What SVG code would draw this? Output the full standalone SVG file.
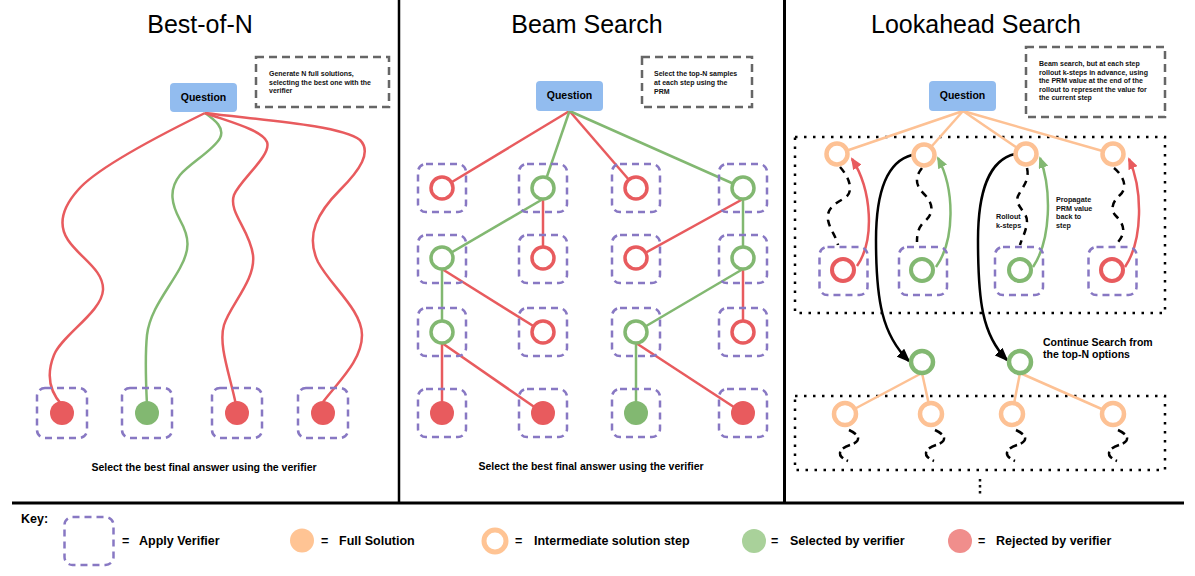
<svg xmlns="http://www.w3.org/2000/svg" width="1195" height="576" viewBox="0 0 1195 576">
<defs>
<style>
text{font-family:"Liberation Sans",Arial,Helvetica,sans-serif;fill:#000}
.title{font-size:25px}
.q{font-size:10.5px;font-weight:bold;text-anchor:middle}
.note{font-size:7px;font-weight:bold;fill:#111}
.cap{font-size:10.5px;font-weight:bold;text-anchor:middle}
.lbl{font-size:7.2px;font-weight:bold;fill:#111}
.key{font-size:12.5px;font-weight:bold}
.qbox{fill:#92BCEF}
.nbox{fill:none;stroke:#666;stroke-width:2.5;stroke-dasharray:8 5}
.vbox{fill:none;stroke:#8878C3;stroke-width:2.5;stroke-dasharray:7 5}
.dotr{fill:none;stroke:#000;stroke-width:2.5;stroke-dasharray:2.5 6.5}
.ln{fill:none;stroke-width:2.5}
.red{stroke:#E85B5E}
.grn{stroke:#82B871}
.org{stroke:#FDC194}
.blk{stroke:#000}
.ring{fill:#fff;stroke-width:3.5}
.ring2{fill:#fff;stroke-width:4.5}
.fr{fill:#E85B5E}
.fg{fill:#82B871}
.dash{fill:none;stroke:#000;stroke-width:2.5;stroke-dasharray:7 6}
.sq{fill:none;stroke:#000;stroke-width:2.5;stroke-dasharray:8 4}
.div{stroke:#000;stroke-width:2.5}
</style>
<marker id="ar" markerUnits="userSpaceOnUse" markerWidth="12" markerHeight="10" refX="10" refY="5" orient="auto"><path d="M0,0 L12,5 L0,10 z" fill="#E85B5E"/></marker>
<marker id="ag" markerUnits="userSpaceOnUse" markerWidth="12" markerHeight="10" refX="10" refY="5" orient="auto"><path d="M0,0 L12,5 L0,10 z" fill="#82B871"/></marker>
<marker id="ak" markerUnits="userSpaceOnUse" markerWidth="14" markerHeight="11" refX="12" refY="5.5" orient="auto"><path d="M0,0 L14,5.5 L0,11 z" fill="#000"/></marker>
</defs>
<rect width="1195" height="576" fill="#fff"/>

<g id="frame">
<line class="div" x1="399" y1="0" x2="399" y2="502"/>
<line class="div" x1="784.5" y1="0" x2="784.5" y2="502" style="stroke-width:3"/>
<line class="div" x1="12" y1="503" x2="1184" y2="503" style="stroke-width:3"/>
</g>

<g id="titles">
<text class="title" x="200" y="33" text-anchor="middle">Best-of-N</text>
<text class="title" x="587" y="33" text-anchor="middle">Beam Search</text>
<text class="title" x="976" y="33" text-anchor="middle">Lookahead Search</text>
</g>

<g id="notes">
<rect class="nbox" x="256" y="57" width="133" height="50"/>
<text class="note" x="269" y="76">Generate N full solutions,</text>
<text class="note" x="269" y="84.5">selecting the best one with the</text>
<text class="note" x="269" y="93">verifier</text>
<rect class="nbox" x="642" y="57" width="110" height="50"/>
<text class="note" x="654" y="76">Select the top-N samples</text>
<text class="note" x="654" y="85">at each step using the</text>
<text class="note" x="654" y="94">PRM</text>
<rect class="nbox" x="1026" y="47" width="139" height="70"/>
<text class="note" x="1039" y="66">Beam search, but at each step</text>
<text class="note" x="1039" y="74.5">rollout k-steps in advance, using</text>
<text class="note" x="1039" y="83">the PRM value at the end of the</text>
<text class="note" x="1039" y="91.7">rollout to represent the value for</text>
<text class="note" x="1039" y="100.3">the current step</text>
</g>

<g id="lookahead-regions">
<rect class="dotr" x="795" y="137" width="370" height="176"/>
<rect class="dotr" x="795" y="396" width="370" height="74"/>
<line x1="980" y1="479" x2="980" y2="495" style="stroke:#111;stroke-width:2.5;stroke-dasharray:2.5 3.5"/>
</g>

<g id="connectors">
<!-- Best-of-N -->
<path class="ln red" d="M205,113 C150,140 95,170 78,190 C62,208 58,225 68,240 C80,258 104,270 103,290 C102,312 62,335 54,355 C46,375 50,392 62,405"/>
<path class="ln grn" d="M205,113 C215,120 225,128 220,138 C214,150 190,163 180,175 C168,190 172,205 180,220 C190,238 190,250 180,268 C168,290 150,310 147,335 C145,355 146,385 147,405"/>
<path class="ln red" d="M205,113 C230,122 262,130 267,142 C272,155 240,180 234,195 C228,212 250,230 253,255 C256,280 230,305 224,325 C218,345 230,375 236,405"/>
<path class="ln red" d="M205,113 C260,120 340,125 360,140 C372,152 360,170 340,190 C318,212 305,235 318,262 C330,285 362,310 362,335 C362,360 340,380 323,402"/>
<!-- Beam search -->
<line class="ln red" x1="569.5" y1="111" x2="442" y2="188"/>
<line class="ln grn" x1="569.5" y1="111" x2="543" y2="188"/>
<line class="ln red" x1="569.5" y1="111" x2="636" y2="188"/>
<line class="ln grn" x1="569.5" y1="111" x2="743" y2="188"/>
<line class="ln grn" x1="543" y1="199" x2="442" y2="258"/>
<line class="ln red" x1="543" y1="199" x2="543" y2="258"/>
<line class="ln red" x1="743" y1="199" x2="636" y2="258"/>
<line class="ln grn" x1="743" y1="199" x2="743" y2="258"/>
<line class="ln grn" x1="442" y1="269" x2="442" y2="332"/>
<line class="ln red" x1="442" y1="269" x2="543" y2="332"/>
<line class="ln grn" x1="743" y1="269" x2="636" y2="332"/>
<line class="ln red" x1="743" y1="269" x2="743" y2="332"/>
<line class="ln red" x1="442" y1="343" x2="442" y2="413"/>
<line class="ln red" x1="442" y1="343" x2="543" y2="413"/>
<line class="ln grn" x1="636" y1="343" x2="636" y2="413"/>
<line class="ln red" x1="636" y1="343" x2="743" y2="413"/>
<!-- Lookahead -->
<line class="ln org" x1="963" y1="111" x2="837" y2="154"/>
<line class="ln org" x1="963" y1="111" x2="924" y2="155"/>
<line class="ln org" x1="963" y1="111" x2="1026" y2="154"/>
<line class="ln org" x1="963" y1="111" x2="1113" y2="154"/>
<path class="dash" d="M840,167 C850,178 854,192 845,198 C836,203 826,208 828,220 C830,230 836,236 838,245"/>
<path class="dash" d="M922,168 C914,178 916,186 924,194 C934,204 934,214 924,222 C918,228 917,234 917,242"/>
<path class="dash" d="M1027,168 C1030,180 1022,188 1018,196 C1014,206 1028,212 1027,222 C1026,232 1022,238 1020,245"/>
<path class="dash" d="M1114,168 C1124,176 1128,188 1120,195 C1112,202 1110,210 1116,216 C1124,224 1128,234 1114,246"/>
<path class="ln red" marker-end="url(#ar)" d="M857,266 C875,240 872,190 852,159"/>
<path class="ln grn" marker-end="url(#ag)" d="M936,267 C955,240 955,190 938,158"/>
<path class="ln grn" marker-end="url(#ag)" d="M1033,267 C1051,240 1052,190 1040,158"/>
<path class="ln red" marker-end="url(#ar)" d="M1125,267 C1143,240 1143,190 1129,159"/>
<path class="ln blk" marker-end="url(#ak)" d="M912,155 C885,162 876,195 876,240 C876,300 882,335 909,361"/>
<path class="ln blk" marker-end="url(#ak)" d="M1015,154 C988,160 978,195 978,240 C978,300 982,335 1007,360"/>
<line class="ln org" x1="922" y1="373" x2="845" y2="414"/>
<line class="ln org" x1="922" y1="373" x2="931" y2="414"/>
<line class="ln org" x1="1020" y1="373" x2="1012" y2="414"/>
<line class="ln org" x1="1020" y1="373" x2="1113" y2="414"/>
<path class="sq" d="M849,430 C862,436 860,442 850,445 C838,449 836,456 848,461"/>
<path class="sq" d="M935,430 C948,436 946,442 936,445 C924,449 922,456 934,461"/>
<path class="sq" d="M1016,430 C1029,436 1027,442 1017,445 C1005,449 1003,456 1015,461"/>
<path class="sq" d="M1118,430 C1131,436 1129,442 1119,445 C1107,449 1105,456 1117,461"/>
</g>

<g id="bon-question"><rect class="qbox" x="170" y="83" width="67" height="29" rx="4"/><text class="q" x="203.5" y="100.5">Question</text></g>
<g id="bon-a1"><rect class="vbox" x="37" y="388" width="50" height="50" rx="8"/><circle class="fr" cx="62" cy="413" r="12"/></g>
<g id="bon-a2"><rect class="vbox" x="122" y="388" width="50" height="50" rx="8"/><circle class="fg" cx="147" cy="413" r="12"/></g>
<g id="bon-a3"><rect class="vbox" x="212" y="388" width="50" height="50" rx="8"/><circle class="fr" cx="237" cy="413" r="12"/></g>
<g id="bon-a4"><rect class="vbox" x="298" y="388" width="50" height="50" rx="8"/><circle class="fr" cx="323" cy="413" r="12"/></g>
<text class="cap" x="204" y="471">Select the best final answer using the verifier</text>

<g id="beam-question"><rect class="qbox" x="536" y="81" width="67" height="30" rx="4"/><text class="q" x="569.5" y="99">Question</text></g>
<g id="beam-r1c1"><rect class="vbox" x="418" y="164" width="48" height="48" rx="8"/><circle class="ring red" cx="442" cy="188" r="11"/></g>
<g id="beam-r1c2"><rect class="vbox" x="519" y="164" width="48" height="48" rx="8"/><circle class="ring grn" cx="543" cy="188" r="11"/></g>
<g id="beam-r1c3"><rect class="vbox" x="612" y="164" width="48" height="48" rx="8"/><circle class="ring red" cx="636" cy="188" r="11"/></g>
<g id="beam-r1c4"><rect class="vbox" x="719" y="164" width="48" height="48" rx="8"/><circle class="ring grn" cx="743" cy="188" r="11"/></g>
<g id="beam-r2c1"><rect class="vbox" x="418" y="235" width="48" height="48" rx="8"/><circle class="ring grn" cx="442" cy="258" r="11"/></g>
<g id="beam-r2c2"><rect class="vbox" x="519" y="235" width="48" height="48" rx="8"/><circle class="ring red" cx="543" cy="258" r="11"/></g>
<g id="beam-r2c3"><rect class="vbox" x="612" y="235" width="48" height="48" rx="8"/><circle class="ring red" cx="636" cy="258" r="11"/></g>
<g id="beam-r2c4"><rect class="vbox" x="719" y="235" width="48" height="48" rx="8"/><circle class="ring grn" cx="743" cy="258" r="11"/></g>
<g id="beam-r3c1"><rect class="vbox" x="418" y="308" width="48" height="48" rx="8"/><circle class="ring grn" cx="442" cy="332" r="11"/></g>
<g id="beam-r3c2"><rect class="vbox" x="519" y="308" width="48" height="48" rx="8"/><circle class="ring red" cx="543" cy="332" r="11"/></g>
<g id="beam-r3c3"><rect class="vbox" x="612" y="308" width="48" height="48" rx="8"/><circle class="ring grn" cx="636" cy="332" r="11"/></g>
<g id="beam-r3c4"><rect class="vbox" x="719" y="308" width="48" height="48" rx="8"/><circle class="ring red" cx="743" cy="332" r="11"/></g>
<g id="beam-r4c1"><rect class="vbox" x="418" y="389" width="48" height="48" rx="8"/><circle class="fr" cx="442" cy="413" r="12"/></g>
<g id="beam-r4c2"><rect class="vbox" x="519" y="389" width="48" height="48" rx="8"/><circle class="fr" cx="543" cy="413" r="12"/></g>
<g id="beam-r4c3"><rect class="vbox" x="612" y="389" width="48" height="48" rx="8"/><circle class="fg" cx="636" cy="413" r="12"/></g>
<g id="beam-r4c4"><rect class="vbox" x="719" y="389" width="48" height="48" rx="8"/><circle class="fr" cx="743" cy="413" r="12"/></g>
<text class="cap" x="591" y="470">Select the best final answer using the verifier</text>

<g id="la-question"><rect class="qbox" x="929" y="81" width="67" height="30" rx="4"/><text class="q" x="962.5" y="99">Question</text></g>
<g id="la-s1"><circle class="ring2 org" cx="837" cy="154" r="10.5"/></g>
<g id="la-s2"><circle class="ring2 org" cx="924" cy="155" r="10.5"/></g>
<g id="la-s3"><circle class="ring2 org" cx="1026" cy="154" r="10.5"/></g>
<g id="la-s4"><circle class="ring2 org" cx="1113" cy="154" r="10.5"/></g>
<g id="la-v1"><rect class="vbox" x="819.5" y="247" width="48" height="48" rx="8"/><circle class="ring red" cx="843" cy="270" r="11" style="stroke-width:4"/></g>
<g id="la-v2"><rect class="vbox" x="899" y="247" width="48" height="48" rx="8"/><circle class="ring grn" cx="922" cy="270" r="11" style="stroke-width:4"/></g>
<g id="la-v3"><rect class="vbox" x="995" y="247" width="48" height="48" rx="8"/><circle class="ring grn" cx="1020" cy="270" r="11" style="stroke-width:4"/></g>
<g id="la-v4"><rect class="vbox" x="1088.5" y="247" width="48" height="48" rx="8"/><circle class="ring red" cx="1112" cy="270" r="11" style="stroke-width:4"/></g>
<g id="la-labels">
<text class="lbl" x="996" y="219">Rollout</text>
<text class="lbl" x="996" y="228">k-steps</text>
<text class="lbl" x="1056" y="201.5">Propagate</text>
<text class="lbl" x="1056" y="210.5">PRM value</text>
<text class="lbl" x="1056" y="219.3">back to</text>
<text class="lbl" x="1056" y="228.3">step</text>
<text class="cap" x="1043" y="346" text-anchor="start" style="text-anchor:start">Continue Search from</text>
<text class="cap" x="1043" y="357.5" style="text-anchor:start">the top-N options</text>
</g>
<g id="la-g1"><circle class="ring2 grn" cx="922" cy="362" r="11"/></g>
<g id="la-g2"><circle class="ring2 grn" cx="1020" cy="362" r="11"/></g>
<g id="la-n1"><circle class="ring2 org" cx="845" cy="414" r="11"/></g>
<g id="la-n2"><circle class="ring2 org" cx="931" cy="414" r="11"/></g>
<g id="la-n3"><circle class="ring2 org" cx="1012" cy="414" r="11"/></g>
<g id="la-n4"><circle class="ring2 org" cx="1113" cy="414" r="11"/></g>

<g id="key">
<text class="key" x="21" y="523">Key:</text>
<rect class="vbox" x="64.5" y="517" width="49" height="48" rx="8"/>
<text class="key" x="122" y="545">=</text><text class="key" x="139" y="545">Apply Verifier</text>
<circle cx="302" cy="540.5" r="12" fill="#FFC494"/>
<text class="key" x="321" y="545">=</text><text class="key" x="339" y="545">Full Solution</text>
<circle cx="495" cy="541" r="11" fill="#fff" stroke="#FFC494" stroke-width="5"/>
<text class="key" x="515" y="545">=</text><text class="key" x="534" y="545">Intermediate solution step</text>
<circle cx="754" cy="541" r="12" fill="#A9D19A"/>
<text class="key" x="771" y="545">=</text><text class="key" x="790" y="545">Selected by verifier</text>
<circle cx="960" cy="541" r="12" fill="#F08E8C"/>
<text class="key" x="978" y="545">=</text><text class="key" x="996" y="545">Rejected by verifier</text>
</g>
</svg>
